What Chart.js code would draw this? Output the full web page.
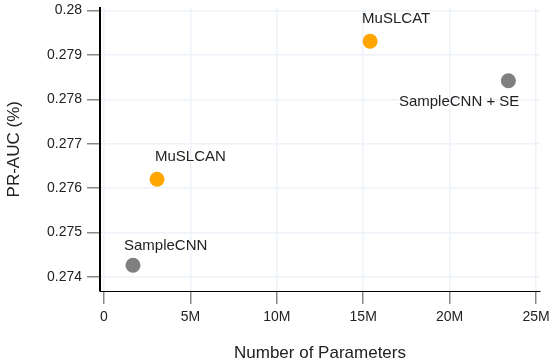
<!DOCTYPE html>
<html>
<head>
<meta charset="utf-8">
<style>
  html, body { margin: 0; padding: 0; background: #fff; }
  #wrap { width: 550px; height: 358px; }
</style>
<script src="https://cdn.jsdelivr.net/npm/chart.js"></script>
</head>
<body>
<div id="wrap"><canvas id="chart" width="550" height="358"></canvas></div>
<script>
// Models and their values
const models = ['SampleCNN', 'MuSLCAN', 'MuSLCAT', 'SampleCNN + SE'];
const params = [1.68e6, 3.07e6, 15.4e6, 23.4e6];
const prAuc = [0.27426, 0.2762, 0.27931, 0.27842];
const pointColors = ['#808080', '#FFA500', '#FFA500', '#808080'];
const xTicks = [0, 5e6, 10e6, 15e6, 20e6, 25e6];
const yTicks = [0.274, 0.275, 0.276, 0.277, 0.278, 0.279, 0.28];

// where each label sits relative to its point
const labelPlace = [
    { dx: -9, dy: -19, align: 'left' },
    { dx: -2, dy: -22, align: 'left' },
    { dx: -8, dy: -22, align: 'left' },
    { dx: 11, dy: 21, align: 'right' }
];

const FONT = '"Liberation Sans", Arial, sans-serif';

// Point labels
const labelPlugin = {
    id: 'pointLabels',
    afterDatasetsDraw(chart) {
        const ctx = chart.ctx;
        const meta = chart.getDatasetMeta(0);
        ctx.save();
        ctx.font = '15px ' + FONT;
        ctx.fillStyle = '#222';
        ctx.textBaseline = 'middle';
        meta.data.forEach((pt, i) => {
            const p = labelPlace[i];
            ctx.textAlign = p.align;
            ctx.fillText(models[i], pt.x + p.dx, pt.y + p.dy);
        });
        ctx.restore();
    }
};

const ctx = document.getElementById('chart').getContext('2d');
new Chart(ctx, {
    type: 'scatter',
    data: {
        datasets: [{
            data: params.map((x, i) => ({ x: x, y: prAuc[i] })),
            backgroundColor: pointColors,
            borderWidth: 0,
            pointRadius: 7.5,
            pointHoverRadius: 7.5
        }]
    },
    options: {
        responsive: false,
        animation: false,
        events: [],
        layout: { padding: { top: 6, right: 10, left: 0, bottom: 0 } },
        plugins: {
            legend: { display: false },
            tooltip: { enabled: false }
        },
        scales: {
            x: {
                type: 'linear',
                min: -0.23e6,
                max: 25.23e6,
                afterBuildTicks: (s) => { s.ticks = xTicks.map(v => ({ value: v })); },
                afterFit: (s) => { s.height = 67; s.paddingLeft = 0; s.paddingRight = 0; },
                ticks: {
                    includeBounds: false,
                    color: '#222',
                    padding: 5,
                    maxRotation: 0,
                    font: { family: FONT, size: 14 },
                    callback: (v) => v === 0 ? '0' : (v / 1e6) + 'M'
                },
                grid: {
                    color: '#eef2f9',
                    tickColor: '#888',
                    tickLength: 13,
                    lineWidth: 1.5,
                    tickWidth: 1.5
                },
                border: { color: '#000', width: 1 },
                title: {
                    display: true,
                    text: 'Number of Parameters',
                    color: '#222',
                    font: { family: FONT, size: 17 },
                    padding: { top: 0, bottom: -6 }
                }
            },
            y: {
                min: 0.27368,
                max: 0.28007,
                afterBuildTicks: (s) => { s.ticks = yTicks.map(v => ({ value: v })); },
                afterFit: (s) => { s.width = 100; s.paddingTop = 0; s.paddingBottom = 0; },
                ticks: {
                    includeBounds: false,
                    color: '#222',
                    padding: 5,
                    font: { family: FONT, size: 14 },
                    callback: (v) => String(Math.round(v * 1000) / 1000)
                },
                grid: {
                    color: '#eef2f9',
                    tickColor: '#888',
                    tickLength: 13,
                    lineWidth: 1.5,
                    tickWidth: 1.5
                },
                border: { color: '#000', width: 2 },
                title: {
                    display: true,
                    text: 'PR-AUC (%)',
                    color: '#222',
                    font: { family: FONT, size: 17 },
                    padding: { top: 4, bottom: 0 }
                }
            }
        }
    },
    plugins: [labelPlugin]
});
</script>
</body>
</html>
